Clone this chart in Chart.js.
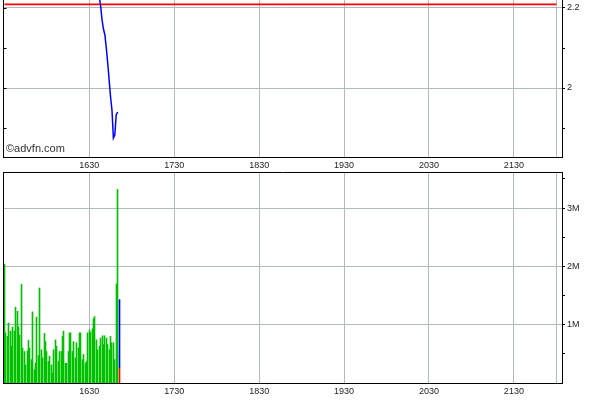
<!DOCTYPE html>
<html><head><meta charset="utf-8">
<script src="https://cdn.jsdelivr.net/npm/chart.js@4.4.1/dist/chart.umd.min.js"></script>
<style>
html,body{margin:0;padding:0;background:#fff;width:600px;height:401px;overflow:hidden}
#top{position:absolute;left:0;top:0}
#bot{position:absolute;left:0;top:172px}
#wm{position:absolute;left:6px;top:142px;font:11px "Liberation Sans",Arial,sans-serif;color:#333;line-height:13px}
</style></head><body>
<canvas id="top" width="600" height="172"></canvas>
<canvas id="bot" width="600" height="229"></canvas>
<div id="wm">©advfn.com</div>
<script>
// ---- data ----
const sessionStart = "15:30";
const axisTimes = ["16:30","17:30","18:30","19:30","20:30","21:30","22:00"];
const axisLabels = ["1630","1730","1830","1930","2030","2130",""];
const priceTimes = ["16:37","16:38","16:39","16:40","16:41","16:42","16:43","16:44","16:45","16:46","16:47","16:48","16:49","16:50"];
const priceValues = [2.2275,2.205,2.17,2.1475,2.1325,2.10,2.0625,2.02,1.9775,1.945,1.875,1.8825,1.9325,1.94];
const refPrice = 2.209;
const priceTickValues = [1.9,2.0,2.1,2.2];
const priceTickLabels = ["","2","","2.2"];
// volume per minute from 15:30, in millions
const volumeValues = [2.04,0.86,0.80,1.03,0.89,0.63,0.96,0.89,1.30,1.23,0.96,0.82,1.69,0.60,0.54,0.31,0.55,0.73,0.60,0.40,
  1.22,0.23,0.34,1.13,0.47,1.63,0.57,0.43,0.85,0.71,0.54,0.37,0.46,0.31,0.17,0.57,0.74,0.63,0.37,0.54,
  0.54,0.80,0.89,0.34,0.34,0.54,0.86,0.86,0.54,0.71,0.43,0.69,0.60,0.86,0.86,0.40,0.49,0.34,0.37,0.86,
  0.91,0.87,0.93,1.10,1.14,0.74,0.57,0.63,0.77,0.81,0.66,0.81,0.77,0.66,0.57,0.80,0.69,0.69,0.40,1.70,3.32];
const lastBarTime = "16:51";
const lastBarRed = 0.27;   // millions
const lastBarBlueTop = 1.43; // millions
const volTickValues = [0.5,1,1.5,2,2.5,3,3.5];
const volTickLabels = ["","1M","","2M","","3M",""];

// ---- helpers ----
function toMin(t){const [h,m]=t.split(':').map(Number);const [h0,m0]=sessionStart.split(':').map(Number);return (h*60+m)-(h0*60+m0);}
const FONT = {family:'"Liberation Sans", Arial, sans-serif', size:9};
const TXT = '#222';
const GRID = '#b0baba';
const X_MIN = -1, X_MAX = 394;

const framePlugin = {
  id:'frame',
  afterDraw(chart, args, opts){
    const {ctx, chartArea:a} = chart;
    const ys = chart.scales.y;
    ctx.save();
    ctx.strokeStyle='#000'; ctx.lineWidth=1;
    ctx.beginPath();
    ctx.moveTo(a.left+0.5, a.top); ctx.lineTo(a.left+0.5, a.bottom);
    if (opts.drawTop){ ctx.moveTo(a.left, a.top+0.5); ctx.lineTo(a.right, a.top+0.5); }
    (opts.leftTicks||[]).forEach(v=>{
      const y = Math.round(ys.getPixelForValue(v))+0.5;
      ctx.moveTo(a.left, y); ctx.lineTo(a.left+3.5, y);
    });
    ctx.stroke();
    ctx.restore();
  }
};

// snap 1px bars to whole device pixels so they render crisp
const snapPlugin = {
  id:'snap',
  beforeDatasetsDraw(chart){
    chart.data.datasets.forEach((ds,i)=>{
      const meta = chart.getDatasetMeta(i);
      if (meta.type !== 'bar') return;
      meta.data.forEach(el=>{ el.x = Math.floor(el.x) + 0.5; el.width = 1; });
    });
  }
};

function xScale(h){
  return {
    type:'linear', min:X_MIN, max:X_MAX, offset:false,
    afterBuildTicks:s=>{ s.ticks = axisTimes.map(t=>({value:toMin(t)})); },
    ticks:{callback:(v,i)=>axisLabels[i], font:FONT, color:TXT, padding:3, maxRotation:0, autoSkip:false},
    grid:{color:GRID, drawTicks:false, offset:false},
    border:{color:'#000', width:1},
    afterFit:s=>{ s.height=h; s.paddingLeft=0; s.paddingRight=0; }
  };
}

// ---- top: price ----
new Chart(document.getElementById('top').getContext('2d'), {
  type:'line',
  data:{datasets:[
    {data: priceTimes.map((t,i)=>({x:toMin(t), y:priceValues[i]})), borderColor:'#0000ff', borderWidth:1.5, pointRadius:0, tension:0},
    {data:[{x:toMin(sessionStart),y:refPrice},{x:toMin("22:00"),y:refPrice}], borderColor:'#ff0000', borderWidth:1.6, pointRadius:0}
  ]},
  options:{
    responsive:false, animation:false, events:[],
    layout:{padding:{left:3,right:0,top:0,bottom:0}},
    plugins:{legend:{display:false},tooltip:{enabled:false},frame:{drawTop:false,leftTicks:priceTickValues}},
    scales:{
      x: xScale(15),
      y:{
        position:'right', min:1.8275, max:2.22,
        afterBuildTicks:s=>{ s.ticks = priceTickValues.map(v=>({value:v})); },
        ticks:{callback:(v,i)=>priceTickLabels[i], font:FONT, color:TXT, padding:2},
        grid:{color:c=> (c.tick && priceTickLabels[c.index]) ? GRID : 'rgba(0,0,0,0)', tickColor:'#000', tickLength:3},
        border:{color:'#000', width:1},
        afterFit:s=>{ s.width=38; s.paddingTop=0; s.paddingBottom=0; }
      }
    }
  },
  plugins:[framePlugin]
});

// ---- bottom: volume ----
new Chart(document.getElementById('bot').getContext('2d'), {
  type:'bar',
  data:{datasets:[
    {data: volumeValues.map((v,i)=>({x:toMin(sessionStart)+i, y:v*1e6})), backgroundColor:'#00c000', barThickness:1, grouped:false},
    {data:[{x:toMin(lastBarTime), y:[lastBarRed*1e6, lastBarBlueTop*1e6]}], backgroundColor:'#0000ff', barThickness:1, grouped:false},
    {data:[{x:toMin(lastBarTime), y:lastBarRed*1e6}], backgroundColor:'#ff0000', barThickness:1, grouped:false}
  ]},
  options:{
    responsive:false, animation:false, events:[],
    layout:{padding:{left:3,right:0,top:0,bottom:0}},
    plugins:{legend:{display:false},tooltip:{enabled:false},frame:{drawTop:true,leftTicks:volTickValues}},
    scales:{
      x: xScale(18),
      y:{
        position:'right', min:0, max:3.62e6,
        afterBuildTicks:s=>{ s.ticks = volTickValues.map(v=>({value:v*1e6})); },
        ticks:{callback:(v,i)=>volTickLabels[i], font:FONT, color:TXT, padding:2},
        grid:{color:c=> (c.tick && volTickLabels[c.index]) ? GRID : 'rgba(0,0,0,0)', tickColor:'#000', tickLength:3},
        border:{color:'#000', width:1},
        afterFit:s=>{ s.width=38; s.paddingTop=0; s.paddingBottom=0; }
      }
    }
  },
  plugins:[framePlugin, snapPlugin]
});
</script>
</body></html>
